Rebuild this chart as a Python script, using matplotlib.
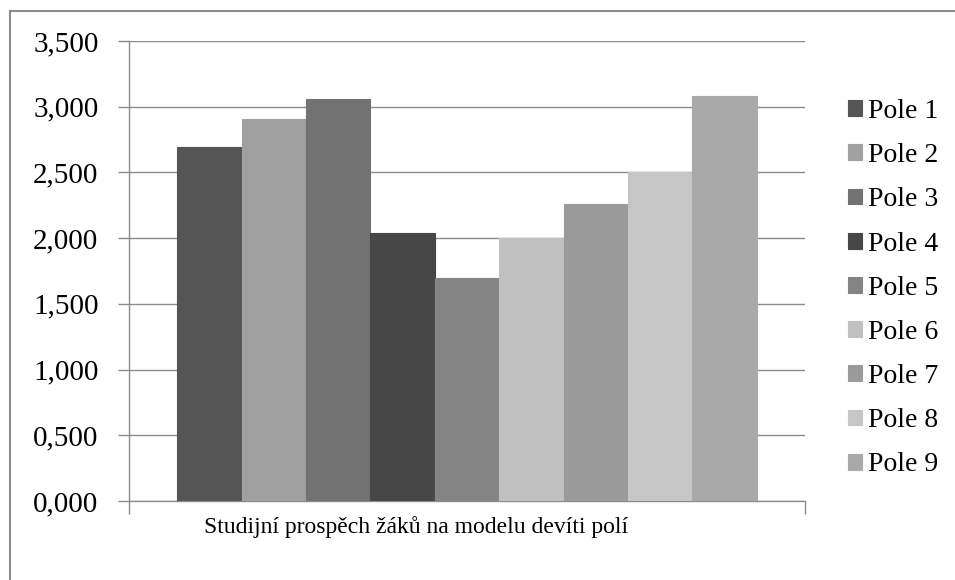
import matplotlib.pyplot as plt
import numpy as np
from matplotlib.lines import Line2D
from matplotlib.ticker import FuncFormatter

# data
series = ['Pole 1', 'Pole 2', 'Pole 3', 'Pole 4', 'Pole 5', 'Pole 6', 'Pole 7', 'Pole 8', 'Pole 9']
values = [2.69, 2.91, 3.06, 2.04, 1.70, 2.00, 2.26, 2.50, 3.08]
colors = ['#555555', '#a0a0a0', '#727272', '#474747', '#848484',
          '#c0c0c0', '#9a9a9a', '#c6c6c6', '#a9a9a9']
category = 'Studijní prospěch žáků na modelu devíti polí'

plt.rcParams['font.family'] = ['Liberation Serif', 'DejaVu Serif']

fig = plt.figure(figsize=(9.55, 5.8), dpi=100)
ax = fig.add_axes([129 / 955, 1 - 501 / 580, 676 / 955, 460 / 580])

n = len(values)
gap = 1.5
w = 1.0 / (n + gap)
x0 = -0.5 + gap * w / 2
for i, (s, v, c) in enumerate(zip(series, values, colors)):
    ax.bar(x0 + (i + 0.5) * w, v, width=w, color=c, edgecolor=c, linewidth=0.8,
           label=s, zorder=3)

ax.set_xlim(-0.5, 0.5)
ax.set_ylim(0, 3.5)
ax.set_yticks(np.arange(0, 3.51, 0.5))
ax.yaxis.set_major_formatter(FuncFormatter(lambda v, p: f'{v:.3f}'.replace('.', ',')))
ax.yaxis.grid(True, color='#8c8c8c', linewidth=1.0, zorder=0)
ax.set_xticks([-0.5, 0.5])
ax.set_xticklabels([])
ax.tick_params(axis='x', length=9, width=1, color='#8c8c8c', direction='out')
ax.tick_params(axis='y', length=8, width=1, color='#8c8c8c', direction='out',
               labelsize=21, pad=14)
for sp in ['top', 'right']:
    ax.spines[sp].set_visible(False)
for sp in ['left', 'bottom']:
    ax.spines[sp].set_color('#8c8c8c')
    ax.spines[sp].set_linewidth(1.0)

# category label
fig.text(416 / 955, 1 - 527 / 580, category, ha='center', va='center', fontsize=17)

# legend
leg = fig.legend(loc='upper left', bbox_to_anchor=(837 / 955, 1 - 88 / 580),
                 frameon=False, fontsize=20, handlelength=0.5, handleheight=0.5,
                 handletextpad=0.2, labelspacing=0.69, borderaxespad=0)

# chart border (top and left only visible)
fig.add_artist(Line2D([10 / 955, 1], [1 - 11 / 580, 1 - 11 / 580], color='#8c8c8c',
                      linewidth=1.5, transform=fig.transFigure))
fig.add_artist(Line2D([10 / 955, 10 / 955], [0, 1 - 11 / 580], color='#8c8c8c',
                      linewidth=1.5, transform=fig.transFigure))

fig.savefig('out.png', dpi=100)
